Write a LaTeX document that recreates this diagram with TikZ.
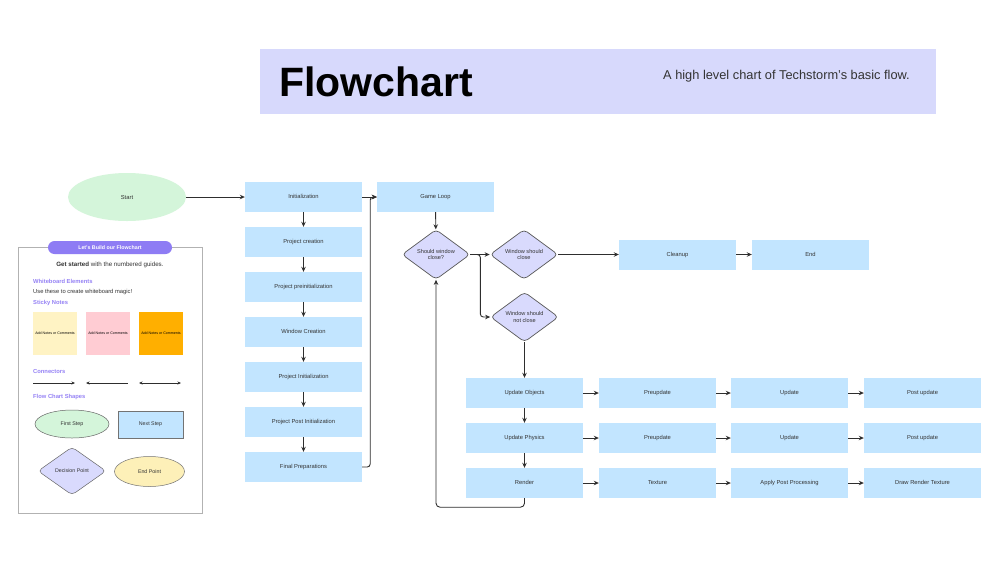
\documentclass[tikz,border=0pt]{standalone}
\usepackage{fontspec}
\setmainfont{Liberation Sans}
\usetikzlibrary{shapes.geometric,arrows.meta}
\definecolor{boxblue}{HTML}{C2E5FF}
\definecolor{diafill}{HTML}{D9DAFD}
\definecolor{hdrfill}{HTML}{D7D9FC}
\definecolor{startgreen}{HTML}{D4F5DA}
\definecolor{stickyyellow}{HTML}{FFF3C4}
\definecolor{stickypink}{HTML}{FFCCD3}
\definecolor{stickyorange}{HTML}{FFAF00}
\definecolor{endyellow}{HTML}{FDF0B8}
\definecolor{purp}{HTML}{8E7CF4}
\definecolor{purptext}{HTML}{9582F5}
\definecolor{linegray}{HTML}{2E2E2E}
\definecolor{txt}{HTML}{333333}
\tikzset{
  box/.style={rectangle, fill=boxblue, minimum width=117pt, minimum height=30pt, inner sep=0pt, font=\fontsize{5.8}{6.9}\selectfont, text=txt, text height=4.3pt, text depth=1.2pt},
  dia/.style={diamond, fill=diafill, draw=linegray!80, line width=0.7pt, rounded corners=4pt, minimum width=68pt, minimum height=50pt, inner sep=0pt, font=\fontsize{5.6}{6.6}\selectfont, text=txt, align=center},
  arr/.style={draw=linegray, line width=0.9pt, -{Stealth[length=5pt,width=4.5pt]}},
  sticky/.style={rectangle, minimum width=44pt, minimum height=43pt, inner sep=0pt, font=\fontsize{3.6}{4.2}\selectfont},
  phead/.style={anchor=west, text=purptext, font=\fontsize{5.8}{7}\selectfont\bfseries, inner sep=0pt},
  ptext/.style={anchor=west, text=txt, font=\fontsize{5.8}{7}\selectfont, inner sep=0pt},
  shapelbl/.style={font=\fontsize{5.3}{6.3}\selectfont, text=txt, inner sep=0pt},
  ctip/.style={draw=linegray, line width=0.9pt}
}
\begin{document}
\begin{tikzpicture}[x=1pt,y=-1pt]
\useasboundingbox (0,0) rectangle (1000,563);
\fill[white] (0,0) rectangle (1000,563);

% header
\node[rectangle, fill=hdrfill, minimum width=676pt, minimum height=65pt, inner sep=0pt] (hdr) at (598,81.5) {};
\node[anchor=west, inner sep=0pt, font=\fontsize{41}{44}\selectfont\bfseries] (title) at (279,82) {Flowchart};
\node[anchor=east, inner sep=0pt, font=\fontsize{12.8}{14}\selectfont, text=txt] (subtitle) at (910,76) {A high level chart of Techstorm’s basic flow.};

% start
\node[ellipse, fill=startgreen, minimum width=118pt, minimum height=48pt, inner sep=0pt, font=\fontsize{5.8}{6.9}\selectfont, text=txt] (start) at (127,197) {Start};

% left column
\node[box] (init) at (303.5,197) {Initialization};
\node[box] (pc) at (303.5,242) {Project creation};
\node[box] (ppi) at (303.5,287) {Project preinitialization};
\node[box] (wc) at (303.5,332) {Window Creation};
\node[box] (pi) at (303.5,377) {Project Initialization};
\node[box] (ppost) at (303.5,422) {Project Post Initialization};
\node[box] (fp) at (303.5,467) {Final Preparations};

% game loop
\node[box] (gl) at (435.5,197) {Game Loop};
\node[dia] (d1) at (436,254.5) {Should window\\close?};
\node[dia] (d2) at (524,254.5) {Window should\\close};
\node[dia] (d3) at (524.5,317) {Window should\\not close};
\node[box] (clean) at (677.5,254.5) {Cleanup};
\node[box] (endn) at (810.5,254.5) {End};

% grid
\node[box] (uo) at (524.5,393) {Update Objects};
\node[box] (up) at (524.5,438) {Update Physics};
\node[box] (rd) at (524.5,483) {Render};
\node[box] (r1a) at (657.5,393) {Preupdate};
\node[box] (r1b) at (789.5,393) {Update};
\node[box] (r1c) at (922.5,393) {Post update};
\node[box] (r2a) at (657.5,438) {Preupdate};
\node[box] (r2b) at (789.5,438) {Update};
\node[box] (r2c) at (922.5,438) {Post update};
\node[box] (r3a) at (657.5,483) {Texture};
\node[box] (r3b) at (789.5,483) {Apply Post Processing};
\node[box] (r3c) at (922.5,483) {Draw Render Texture};

% connectors
\draw[arr] (start.east) -- (init.west);
\draw[arr] (init) -- (pc);
\draw[arr] (pc) -- (ppi);
\draw[arr] (ppi) -- (wc);
\draw[arr] (wc) -- (pi);
\draw[arr] (pi) -- (ppost);
\draw[arr] (ppost) -- (fp);
\draw[arr] (init.east) -- (gl.west);
\draw[arr, rounded corners=3pt] (fp.east) -- ++(8,0) |- (gl.west);
\draw[arr] (gl) -- (d1);
\draw[arr] (d1.east) -- (d2.west);
\draw[arr, rounded corners=3pt] (d1.east) -- ++(10,0) |- (d3.west);
\draw[arr] (d2.east) -- (clean.west);
\draw[arr] (clean) -- (endn);
\draw[arr] (d3.south) -- (uo.north);
\draw[arr] (uo) -- (up);
\draw[arr] (up) -- (rd);
\draw[arr] (uo) -- (r1a);
\draw[arr] (r1a) -- (r1b);
\draw[arr] (r1b) -- (r1c);
\draw[arr] (up) -- (r2a);
\draw[arr] (r2a) -- (r2b);
\draw[arr] (r2b) -- (r2c);
\draw[arr] (rd) -- (r3a);
\draw[arr] (r3a) -- (r3b);
\draw[arr] (r3b) -- (r3c);
\draw[arr, rounded corners=4pt] (rd.south) -- ++(0,9) -| (d1.south);

% left panel
\node[rectangle, draw=black!30, line width=0.7pt, minimum width=184pt, minimum height=266pt, inner sep=0pt] (panel) at (110,380) {};
\node[rectangle, rounded corners=6.5pt, fill=purp, minimum width=124pt, minimum height=13pt, inner sep=0pt, text=white, font=\fontsize{5.3}{6.3}\selectfont\bfseries] (pill) at (110,247.5) {Let’s Build our Flowchart};
\node[inner sep=0pt, text=txt, font=\fontsize{6.2}{7.4}\selectfont] (gs) at (110,265) {\textbf{Get started} with the numbered guides.};
\node[phead] (we) at (33,281) {Whiteboard Elements};
\node[ptext] (use) at (33,291.5) {Use these to create whiteboard magic!};
\node[phead] (sn) at (33,303) {Sticky Notes};
\node[sticky, fill=stickyyellow] (s1) at (55,333.5) {Add Notes or Comments};
\node[sticky, fill=stickypink] (s2) at (108,333) {Add Notes or Comments};
\node[sticky, fill=stickyorange] (s3) at (161,333) {Add Notes or Comments};
\node[phead] (cn) at (33,371) {Connectors};
\coordinate (c1a) at (33,383); \coordinate (c1b) at (75,383);
\coordinate (c2a) at (86,383); \coordinate (c2b) at (128,383);
\coordinate (c3a) at (139,383); \coordinate (c3b) at (181,383);
\draw[ctip, -{Stealth[length=3.5pt,width=3pt]}] (c1a) -- (c1b);
\draw[ctip, {Stealth[length=3.5pt,width=3pt]}-] (c2a) -- (c2b);
\draw[ctip, {Stealth[length=3.5pt,width=3pt]}-{Stealth[length=3.5pt,width=3pt]}] (c3a) -- (c3b);
\node[phead] (fcs) at (33,397) {Flow Chart Shapes};
\node[ellipse, shapelbl, fill=startgreen, draw=black!60, line width=0.5pt, minimum width=74pt, minimum height=28pt] (fs) at (72,424) {First Step};
\node[rectangle, shapelbl, fill=boxblue, draw=black!55, line width=0.5pt, minimum width=65pt, minimum height=27pt] (ns) at (150.5,424.5) {Next Step};
\node[diamond, shapelbl, fill=diafill, draw=black!60, line width=0.5pt, rounded corners=4pt, minimum width=68pt, minimum height=48pt] (dp) at (72,471) {Decision Point};
\node[ellipse, shapelbl, fill=endyellow, draw=black!55, line width=0.5pt, minimum width=70pt, minimum height=30pt] (ep) at (149.5,471.5) {End Point};
\end{tikzpicture}
\end{document}
